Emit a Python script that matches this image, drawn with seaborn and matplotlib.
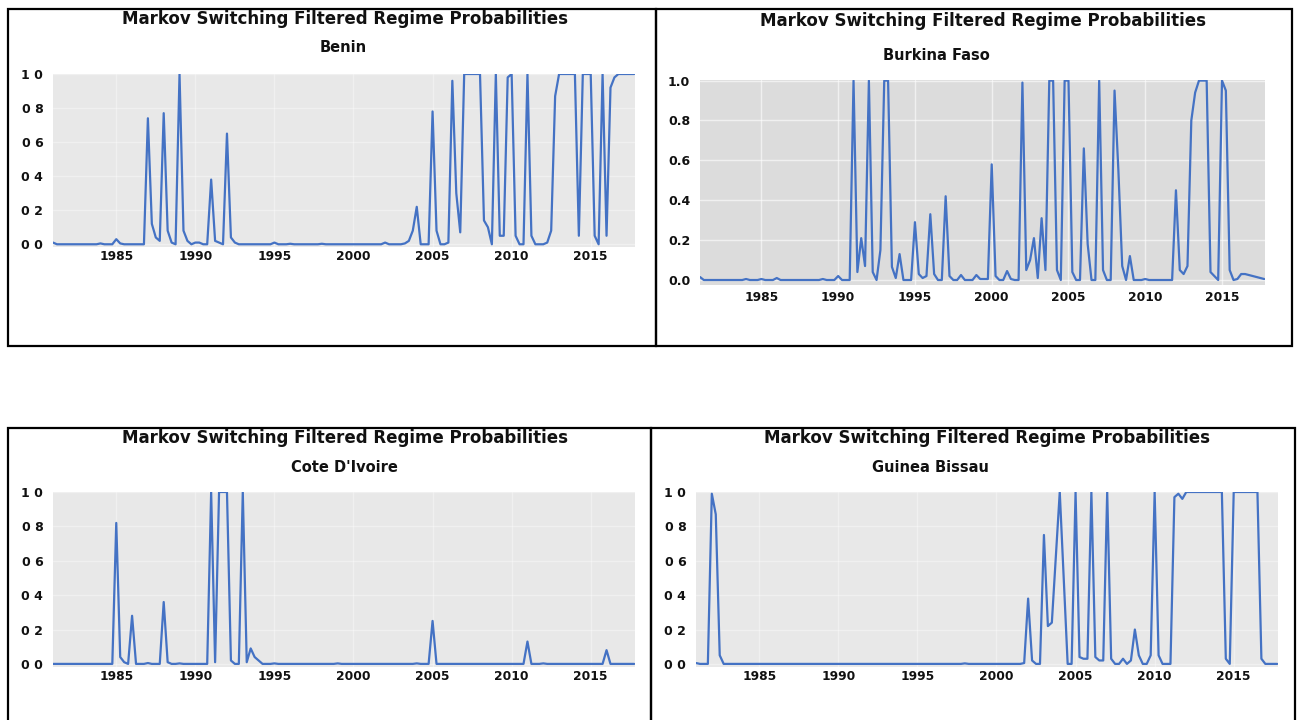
import numpy as np
import pandas as pd
import matplotlib
matplotlib.use("Agg")
import matplotlib.pyplot as plt
from matplotlib.patches import Rectangle
import seaborn as sns

# ---------------- data (quarterly, 1981Q1 - 2017Q4) ----------------
quarters = np.arange(1981, 2018, 0.25)

benin = [
    0.01, 0.0, 0.0, 0.0,      # 1981
    0.0, 0.0, 0.0, 0.0,       # 1982
    0.0, 0.0, 0.0, 0.0,       # 1983
    0.005, 0.0, 0.0, 0.0,     # 1984
    0.03, 0.005, 0.0, 0.0,    # 1985
    0.0, 0.0, 0.0, 0.0,       # 1986
    0.74, 0.12, 0.04, 0.02,   # 1987
    0.77, 0.08, 0.01, 0.0,    # 1988
    1.0, 0.08, 0.02, 0.0,     # 1989
    0.01, 0.01, 0.0, 0.0,     # 1990
    0.38, 0.02, 0.01, 0.0,    # 1991
    0.65, 0.04, 0.01, 0.0,    # 1992
    0.0, 0.0, 0.0, 0.0,       # 1993
    0.0, 0.0, 0.0, 0.0,       # 1994
    0.01, 0.0, 0.0, 0.0,      # 1995
    0.003, 0.0, 0.0, 0.0,     # 1996
    0.0, 0.0, 0.0, 0.0,       # 1997
    0.003, 0.0, 0.0, 0.0,     # 1998
    0.0, 0.0, 0.0, 0.0,       # 1999
    0.0, 0.0, 0.0, 0.0,       # 2000
    0.0, 0.0, 0.0, 0.0,       # 2001
    0.01, 0.0, 0.0, 0.0,      # 2002
    0.0, 0.005, 0.02, 0.08,   # 2003
    0.22, 0.0, 0.0, 0.0,      # 2004
    0.78, 0.08, 0.0, 0.0,     # 2005
    0.01, 0.96, 0.3, 0.07,    # 2006
    1.0, 1.0, 1.0, 1.0,       # 2007
    1.0, 0.14, 0.1, 0.0,      # 2008
    1.0, 0.05, 0.05, 0.98,    # 2009
    1.0, 0.05, 0.0, 0.0,      # 2010
    1.0, 0.05, 0.0, 0.0,      # 2011
    0.0, 0.01, 0.08, 0.87,    # 2012
    1.0, 1.0, 1.0, 1.0,       # 2013
    1.0, 0.05, 1.0, 1.0,      # 2014
    1.0, 0.05, 0.0, 1.0,      # 2015
    0.05, 0.92, 0.98, 1.0,    # 2016
    1.0, 1.0, 1.0, 1.0,       # 2017
]

burkina = [
    0.015, 0.0, 0.0, 0.0,     # 1981
    0.0, 0.0, 0.0, 0.0,       # 1982
    0.0, 0.0, 0.0, 0.0,       # 1983
    0.005, 0.0, 0.0, 0.0,     # 1984
    0.005, 0.0, 0.0, 0.0,     # 1985
    0.01, 0.0, 0.0, 0.0,      # 1986
    0.0, 0.0, 0.0, 0.0,       # 1987
    0.0, 0.0, 0.0, 0.0,       # 1988
    0.005, 0.0, 0.0, 0.0,     # 1989
    0.02, 0.0, 0.0, 0.0,      # 1990
    1.0, 0.04, 0.21, 0.07,    # 1991
    1.0, 0.04, 0.0, 0.15,     # 1992
    1.0, 1.0, 0.066, 0.01,    # 1993
    0.13, 0.0, 0.0, 0.0,      # 1994
    0.29, 0.03, 0.01, 0.02,   # 1995
    0.33, 0.03, 0.0, 0.0,     # 1996
    0.42, 0.02, 0.0, 0.0,     # 1997
    0.025, 0.0, 0.0, 0.0,     # 1998
    0.025, 0.005, 0.005, 0.005,  # 1999
    0.58, 0.02, 0.0, 0.0,     # 2000
    0.045, 0.005, 0.0, 0.0,   # 2001
    0.99, 0.05, 0.1, 0.21,    # 2002
    0.01, 0.31, 0.05, 1.0,    # 2003
    1.0, 0.05, 0.0, 1.0,      # 2004
    1.0, 0.04, 0.0, 0.0,      # 2005
    0.66, 0.18, 0.0, 0.0,     # 2006
    1.0, 0.05, 0.0, 0.0,      # 2007
    0.95, 0.55, 0.07, 0.0,    # 2008
    0.12, 0.0, 0.0, 0.0,      # 2009
    0.005, 0.0, 0.0, 0.0,     # 2010
    0.0, 0.0, 0.0, 0.0,       # 2011
    0.45, 0.05, 0.03, 0.07,   # 2012
    0.8, 0.94, 1.0, 1.0,      # 2013
    1.0, 0.04, 0.02, 0.0,     # 2014
    1.0, 0.95, 0.05, 0.0,     # 2015
    0.005, 0.03, 0.03, 0.025, # 2016
    0.02, 0.015, 0.01, 0.005, # 2017
]

cote = [
    0.0, 0.0, 0.0, 0.0,       # 1981
    0.0, 0.0, 0.0, 0.0,       # 1982
    0.0, 0.0, 0.0, 0.0,       # 1983
    0.0, 0.0, 0.0, 0.0,       # 1984
    0.82, 0.04, 0.01, 0.0,    # 1985
    0.28, 0.0, 0.0, 0.0,      # 1986
    0.005, 0.0, 0.0, 0.0,     # 1987
    0.36, 0.01, 0.0, 0.0,     # 1988
    0.003, 0.0, 0.0, 0.0,     # 1989
    0.0, 0.0, 0.0, 0.0,       # 1990
    1.0, 0.01, 1.0, 1.0,      # 1991
    1.0, 0.02, 0.0, 0.0,      # 1992
    1.0, 0.01, 0.09, 0.04,    # 1993
    0.02, 0.0, 0.0, 0.0,      # 1994
    0.003, 0.0, 0.0, 0.0,     # 1995
    0.0, 0.0, 0.0, 0.0,       # 1996
    0.0, 0.0, 0.0, 0.0,       # 1997
    0.0, 0.0, 0.0, 0.0,       # 1998
    0.003, 0.0, 0.0, 0.0,     # 1999
    0.0, 0.0, 0.0, 0.0,       # 2000
    0.0, 0.0, 0.0, 0.0,       # 2001
    0.0, 0.0, 0.0, 0.0,       # 2002
    0.0, 0.0, 0.0, 0.0,       # 2003
    0.003, 0.0, 0.0, 0.0,     # 2004
    0.25, 0.0, 0.0, 0.0,      # 2005
    0.0, 0.0, 0.0, 0.0,       # 2006
    0.0, 0.0, 0.0, 0.0,       # 2007
    0.0, 0.0, 0.0, 0.0,       # 2008
    0.0, 0.0, 0.0, 0.0,       # 2009
    0.0, 0.0, 0.0, 0.0,       # 2010
    0.13, 0.0, 0.0, 0.0,      # 2011
    0.003, 0.0, 0.0, 0.0,     # 2012
    0.0, 0.0, 0.0, 0.0,       # 2013
    0.0, 0.0, 0.0, 0.0,       # 2014
    0.0, 0.0, 0.0, 0.0,       # 2015
    0.08, 0.0, 0.0, 0.0,      # 2016
    0.0, 0.0, 0.0, 0.0,       # 2017
]

guinea = [
    0.005, 0.0, 0.0, 0.0,     # 1981
    0.99, 0.87, 0.05, 0.0,    # 1982
    0.0, 0.0, 0.0, 0.0,       # 1983
    0.0, 0.0, 0.0, 0.0,       # 1984
    0.0, 0.0, 0.0, 0.0,       # 1985
    0.0, 0.0, 0.0, 0.0,       # 1986
    0.0, 0.0, 0.0, 0.0,       # 1987
    0.0, 0.0, 0.0, 0.0,       # 1988
    0.0, 0.0, 0.0, 0.0,       # 1989
    0.0, 0.0, 0.0, 0.0,       # 1990
    0.0, 0.0, 0.0, 0.0,       # 1991
    0.0, 0.0, 0.0, 0.0,       # 1992
    0.0, 0.0, 0.0, 0.0,       # 1993
    0.0, 0.0, 0.0, 0.0,       # 1994
    0.0, 0.0, 0.0, 0.0,       # 1995
    0.0, 0.0, 0.0, 0.0,       # 1996
    0.0, 0.0, 0.0, 0.0,       # 1997
    0.003, 0.0, 0.0, 0.0,     # 1998
    0.0, 0.0, 0.0, 0.0,       # 1999
    0.0, 0.0, 0.0, 0.0,       # 2000
    0.0, 0.0, 0.0, 0.005,     # 2001
    0.38, 0.02, 0.0, 0.0,     # 2002
    0.75, 0.22, 0.24, 0.62,   # 2003
    1.0, 0.5, 0.0, 0.0,       # 2004
    1.0, 0.04, 0.03, 0.03,    # 2005
    1.0, 0.04, 0.02, 0.02,    # 2006
    1.0, 0.03, 0.0, 0.0,      # 2007
    0.03, 0.0, 0.02, 0.2,     # 2008
    0.05, 0.0, 0.0, 0.05,     # 2009
    1.0, 0.05, 0.0, 0.0,      # 2010
    0.0, 0.97, 0.99, 0.96,    # 2011
    1.0, 1.0, 1.0, 1.0,       # 2012
    1.0, 1.0, 1.0, 1.0,       # 2013
    1.0, 1.0, 0.03, 0.0,      # 2014
    1.0, 1.0, 1.0, 1.0,       # 2015
    1.0, 1.0, 1.0, 0.03,      # 2016
    0.0, 0.0, 0.0, 0.0,       # 2017
]

main_title = "Markov Switching Filtered Regime Probabilities"
countries = ["Benin", "Burkina Faso", "Cote D'Ivoire", "Guinea Bissau"]
x_tick_years = [1985, 1990, 1995, 2000, 2005, 2010, 2015]
y_ticks = [0.0, 0.2, 0.4, 0.6, 0.8, 1.0]
y_labels_plain = ["0 0", "0 2", "0 4", "0 6", "0 8", "1 0"]
y_labels_dot = ["0.0", "0.2", "0.4", "0.6", "0.8", "1.0"]

# ---------------- figure ----------------
sns.set_theme(style="darkgrid")
plt.rcParams['font.family'] = ['DejaVu Sans']

W, H = 1303, 720
fig = plt.figure(figsize=(W / 100, H / 100), dpi=100)
fig.patch.set_facecolor("white")

LINE = "#4472C4"


def frame(x0, y0, x1, y1):
    fig.add_artist(Rectangle((x0 / W, 1 - y1 / H), (x1 - x0) / W, (y1 - y0) / H,
                             transform=fig.transFigure, fill=False,
                             edgecolor="black", linewidth=1.6, clip_on=False))


def panel(box, series, name, ylabels, bg, ylim, frame_box, title_xy, sub_xy, xpad, grid_alpha):
    x0, y0, x1, y1 = box
    ax = fig.add_axes([x0 / W, 1 - y1 / H, (x1 - x0) / W, (y1 - y0) / H])
    df = pd.DataFrame({"t": quarters, "p": series})
    sns.lineplot(data=df, x="t", y="p", ax=ax, color=LINE, linewidth=1.6)
    ax.set_facecolor(bg)
    ax.set_xlim(1981.0, 2017.8)
    ax.set_ylim(*ylim)
    ax.set_xticks(x_tick_years)
    ax.set_xticklabels([str(y) for y in x_tick_years], fontweight="bold", fontsize=8.8)
    ax.set_yticks(y_ticks)
    ax.set_yticklabels(ylabels, fontweight="bold", fontsize=9)
    ax.tick_params(axis="x", length=0, pad=xpad, colors="#111111")
    ax.tick_params(axis="y", length=0, pad=7, colors="#111111")
    ax.grid(True, color="white", linewidth=1.0, alpha=grid_alpha)
    for s in ax.spines.values():
        s.set_visible(False)
    ax.set_xlabel("")
    ax.set_ylabel("")
    frame(*frame_box)
    fig.text(title_xy[0] / W, 1 - title_xy[1] / H, main_title, ha="center", va="center",
             fontsize=12, fontweight="bold", color="#111111")
    fig.text(sub_xy[0] / W, 1 - sub_xy[1] / H, name, ha="center", va="center",
             fontsize=10.5, fontweight="bold", color="#111111")
    return ax


panel((53, 74, 635, 247), benin, countries[0], y_labels_plain, "#E8E8E8", (-0.016, 1.0),
      (8, 9, 656, 346), (345, 19), (343, 48), 2, 0.35)
panel((700, 80, 1265, 285), burkina, countries[1], y_labels_dot, "#DCDCDC", (-0.025, 1.003),
      (656, 9, 1292, 346), (983, 21), (936, 56), 4, 0.6)
panel((53, 492, 635, 667), cote, countries[2], y_labels_plain, "#E8E8E8", (-0.018, 1.0),
      (8, 428, 651, 730), (345, 438), (344, 467), 2, 0.35)
panel((696, 492, 1278, 667), guinea, countries[3], y_labels_plain, "#E8E8E8", (-0.018, 1.0),
      (651, 428, 1295, 730), (987, 438), (930, 467), 2, 0.35)

fig.savefig("out.png", dpi=100, facecolor="white")
